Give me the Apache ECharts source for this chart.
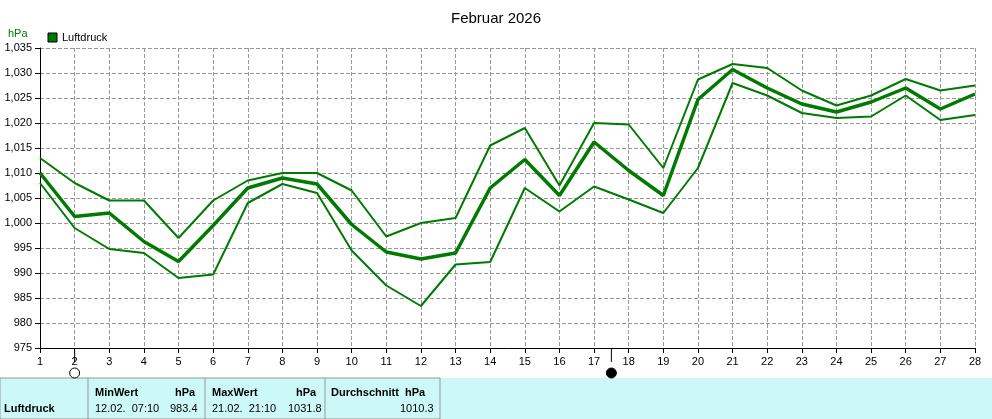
<!DOCTYPE html><html><head><meta charset="utf-8">
<script src="https://cdn.jsdelivr.net/npm/echarts@6/dist/echarts.min.js"></script>
<style>body{margin:0;background:#fff}#c{width:992px;height:419px}</style></head><body><div id="c"></div>
<script>
const days=[];for(let i=1;i<=28;i++)days.push(String(i));
const maxV=[1013,1008,1004.5,1004.5,997,1004.5,1008.5,1010,1010,1006.5,997.3,1000,1001,1015.5,1019,1007.5,1020,1019.7,1011,1028.7,1031.8,1031,1026.5,1023.5,1025.5,1028.8,1026.5,1027.5];
const meanV=[1010,1001.3,1002,996.3,992.3,999.5,1007,1009,1007.8,999.7,994.2,992.8,994,1007,1012.7,1005.5,1016.2,1010.5,1005.5,1024.7,1030.7,1027,1023.8,1022.2,1024.2,1027,1022.8,1025.8];
const minV=[1008,999,994.8,994,989,989.7,1004,1007.8,1006,994.5,987.5,983.4,991.7,992.2,1007,1002.3,1007.3,1004.7,1002,1011,1028,1025.5,1022,1021,1021.3,1025.5,1020.6,1021.6];
const stats=['Luftdruck','MinWert','hPa','12.02.  07:10','983.4','MaxWert','hPa','21.02.  21:10','1031.8','Durchschnitt  hPa','1010.3'];
const c=echarts.init(document.getElementById('c'));
const ln=(d,w)=>({type:'line',data:d,symbol:'none',lineStyle:{color:'#007a00',width:w},itemStyle:{color:'#007a00'},animation:false});
c.setOption({
 title:{text:'Februar 2026',left:'center',top:6,textStyle:{fontSize:15,fontWeight:'normal',color:'#000',fontFamily:'Liberation Sans'}},
 legend:{show:false},
 grid:{left:40,right:17,top:48,bottom:71},
 xAxis:{type:'category',data:days,boundaryGap:false,axisLine:{lineStyle:{color:'#000'}},axisTick:{show:true,alignWithLabel:true,lineStyle:{color:'#000'}},axisLabel:{color:'#000',fontSize:11,interval:0},splitLine:{show:true,lineStyle:{color:'#999',type:'dashed'}}},
 yAxis:{type:'value',min:975,max:1035,interval:5,axisLine:{show:true,lineStyle:{color:'#000'}},axisTick:{show:true},axisLabel:{color:'#000',fontSize:11},splitLine:{lineStyle:{color:'#999',type:'dashed'}}},
 series:[ln(maxV,2),ln(meanV,3.5),ln(minV,2)]
});
const p2=c.convertToPixel({xAxisIndex:0},'2'), p17=c.convertToPixel({xAxisIndex:0},'17'), p18=c.convertToPixel({xAxisIndex:0},'18');
const pm=(p17+p18)/2;
const T=(x,y,t,b)=>({type:'text',left:x,top:y,style:{text:t,fontSize:11,fontWeight:b?'bold':'normal',fill:'#000',fontFamily:'Liberation Sans'}});
c.setOption({graphic:[
 {type:'rect',shape:{x:0,y:378,width:992,height:41},style:{fill:'#ccf8f8'}},
 {type:'rect',shape:{x:0,y:378,width:440,height:41},style:{fill:'#ccf8f8',stroke:'#999'}},
 {type:'line',shape:{x1:88,y1:378,x2:88,y2:419},style:{stroke:'#999'}},
 {type:'line',shape:{x1:205,y1:378,x2:205,y2:419},style:{stroke:'#999'}},
 {type:'line',shape:{x1:325,y1:378,x2:325,y2:419},style:{stroke:'#999'}},
 T(4,403,stats[0],1),T(95,387,stats[1],1),T(175,387,stats[2],1),T(95,403,stats[3]),T(170,403,stats[4]),
 T(212,387,stats[5],1),T(296,387,stats[6],1),T(212,403,stats[7]),T(288,403,stats[8]),T(331,387,stats[9],1),T(400,403,stats[10]),
 {type:'rect',shape:{x:48,y:33,width:9,height:9},style:{fill:'#007a00',stroke:'#000'}},
 {type:'text',left:62,top:32,style:{text:'Luftdruck',fontSize:11,fill:'#000'}},
 {type:'text',left:8,top:28,style:{text:'hPa',fontSize:11,fill:'#007a00'}},
 {type:'line',shape:{x1:p2,y1:348,x2:p2,y2:362},style:{stroke:'#000'}},
 {type:'circle',shape:{cx:p2,cy:373,r:5},style:{fill:'#fff',stroke:'#000'}},
 {type:'line',shape:{x1:pm,y1:348,x2:pm,y2:362},style:{stroke:'#000'}},
 {type:'circle',shape:{cx:pm,cy:373,r:5},style:{fill:'#000',stroke:'#000'}}
]});
</script></body></html>
